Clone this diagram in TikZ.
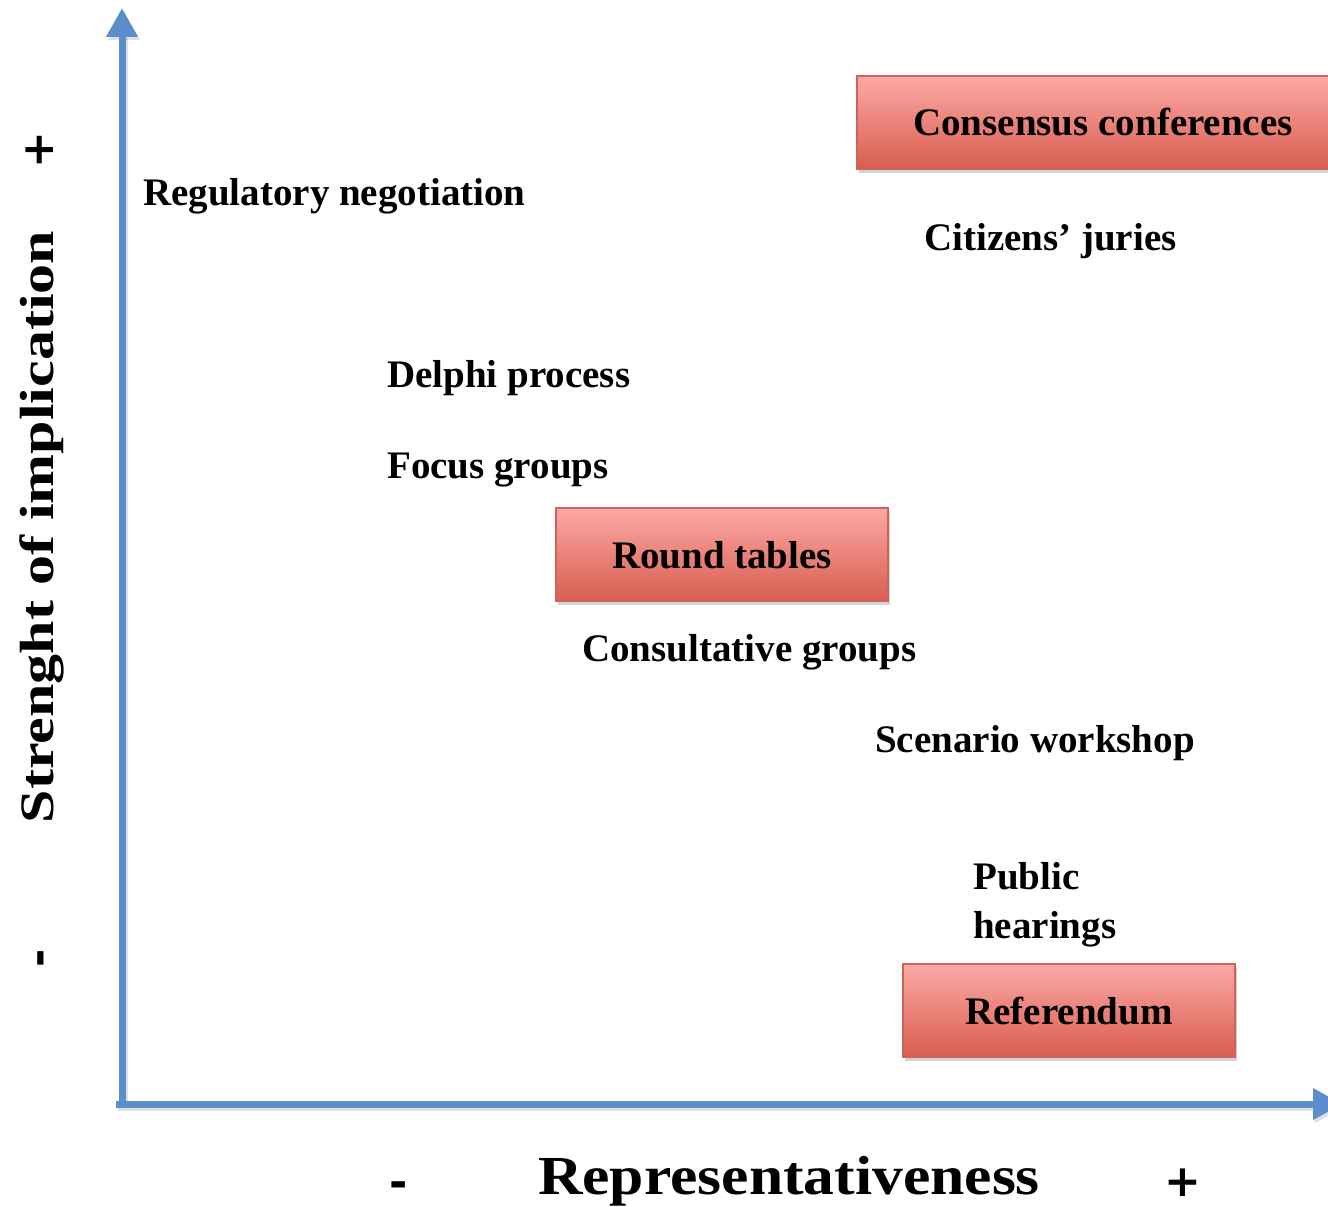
\documentclass[tikz,border=0pt]{standalone}
\usepackage{fontspec}
\setmainfont{Liberation Serif}
\newfontfamily\signfont{DejaVu Sans}
\usetikzlibrary{arrows.meta,shadows}
\definecolor{axisblue}{HTML}{5B8FCB}
\definecolor{boxtop}{HTML}{FBA9A5}
\definecolor{boxbot}{HTML}{D95D4F}
\definecolor{boxline}{HTML}{D0625A}
\tikzset{
  lbl/.style={anchor=base west, inner sep=0pt, font=\fontsize{39}{44}\selectfont\bfseries},
  redbox/.style={draw=boxline, line width=1.5pt, top color=boxtop, bottom color=boxbot,
     drop shadow={opacity=0.35, shadow xshift=2pt, shadow yshift=-4pt}},
  boxtxt/.style={anchor=base, inner sep=0pt, font=\fontsize{39}{44}\selectfont\bfseries},
  axis/.style={line width=7pt, draw=axisblue, -{Triangle[width=30pt,length=29pt]}},
  axshadow/.style={line width=7pt, draw=black, opacity=0.12, -{Triangle[width=30pt,length=29pt]}},
  sign/.style={inner sep=0pt, font=\signfont\fontsize{44}{48}\selectfont\bfseries},
}
\begin{document}
\begin{tikzpicture}[x=1pt,y=-1pt]
\useasboundingbox (0,0) rectangle (1328,1207);
\fill[white] (0,0) rectangle (1328,1207);
% axes
\coordinate (origin) at (122,1104);
\coordinate (origx) at (116,1104);
\coordinate (ytop) at (122,8);
\coordinate (xend) at (1342,1104);
\draw[axshadow] ([shift={(2,3)}]origin) -- ([shift={(2,3)}]ytop);
\draw[axshadow] ([shift={(2,3)}]origx) -- ([shift={(2,3)}]xend);
\draw[axis] (origin) -- (ytop);
\draw[axis] (origx) -- (xend);
% boxes
\path[redbox] (857,76) rectangle (1340,169);
\node[boxtxt] (cons) at (1103,135) {Consensus conferences};
\path[redbox] (556,508) rectangle (888,601);
\node[boxtxt] (round) at (722,568) {Round tables};
\path[redbox] (903,964) rectangle (1235,1057);
\node[boxtxt] (ref) at (1069,1024) {Referendum};
% labels
\node[lbl] (reg) at (143,205) {Regulatory negotiation};
\node[lbl] (cit) at (924,250) {Citizens’ juries};
\node[lbl] (del) at (387,387) {Delphi process};
\node[lbl] (foc) at (387,478) {Focus groups};
\node[lbl] (con) at (582,661) {Consultative groups};
\node[lbl] (sce) at (875,752) {Scenario workshop};
\node[lbl] (pub) at (973,889) {Public};
\node[lbl] (hea) at (973,938) {hearings};
% axis titles
\node[anchor=base, inner sep=0pt, font=\fontsize{55}{60}\selectfont\bfseries] (xt) at (789,1194) {\scalebox{1.12}[1]{Representativeness}};
\node[anchor=base, inner sep=0pt, rotate=90, font=\fontsize{48}{52}\selectfont\bfseries] (yt) at (53,527) {\scalebox{1.25}[1]{Strenght of implication}};
\node[sign] (xm) at (399,1190) {-};
\node[sign] (xp) at (1183,1183) {+};
\node[sign, rotate=90] (yp) at (40,150) {+};
\node[sign, rotate=90] (ym) at (46,958) {-};
\end{tikzpicture}
\end{document}
